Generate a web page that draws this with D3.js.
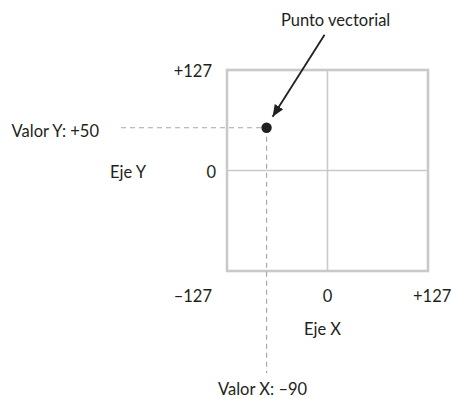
<!DOCTYPE html>
<html>
<head>
<meta charset="utf-8">
<script src="https://cdn.jsdelivr.net/npm/d3@7"></script>
<style>
  html, body { margin: 0; padding: 0; background: #fff; }
  svg { display: block; }
  text { font-family: Lato, "Open Sans", sans-serif; font-size: 16.5px; fill: #231f20; }
</style>
</head>
<body>
<svg id="chart" width="453" height="398"></svg>
<script>
// ---- data ----
const axisDomain = [-127, 127];
const xTickValues = [-127, 0, 127];
const xTickLabels = ["\u2013127", "0", "+127"];
const yTickValues = [127, 0];
const yTickLabels = ["+127", "0"];
const gridValues = [0];
// vector point position (as drawn in the picture) and its labelled values
const pointPos = { x: -77, y: 54 };
const pointLabels = { x: "Valor X: \u201390", y: "Valor Y: +50" };
const axisTitles = { x: "Eje X", y: "Eje Y" };
const calloutText = "Punto vectorial";

// ---- layout ----
const svg = d3.select("#chart");
const box = { left: 227, right: 428, top: 70, bottom: 271 };
const x = d3.scaleLinear().domain(axisDomain).range([box.left, box.right]);
const y = d3.scaleLinear().domain(axisDomain).range([box.bottom, box.top]);

const gridColor = "#c9c9c9";
const dashColor = "#a8a8a8";

// inner grid lines
svg.selectAll("line.vgrid").data(gridValues).enter().append("line")
  .attr("x1", d => x(d)).attr("x2", d => x(d))
  .attr("y1", y(axisDomain[1])).attr("y2", y(axisDomain[0]))
  .attr("stroke", gridColor).attr("stroke-width", 1.6);
svg.selectAll("line.hgrid").data(gridValues).enter().append("line")
  .attr("y1", d => y(d)).attr("y2", d => y(d))
  .attr("x1", x(axisDomain[0])).attr("x2", x(axisDomain[1]))
  .attr("stroke", gridColor).attr("stroke-width", 1.6);

// outer frame
svg.append("rect")
  .attr("x", x(axisDomain[0])).attr("y", y(axisDomain[1]))
  .attr("width", x(axisDomain[1]) - x(axisDomain[0]))
  .attr("height", y(axisDomain[0]) - y(axisDomain[1]))
  .attr("fill", "none").attr("stroke", gridColor).attr("stroke-width", 2.6);

const px = x(pointPos.x), py = y(pointPos.y);

// dashed guide lines
svg.append("line")
  .attr("x1", 121).attr("x2", px).attr("y1", py).attr("y2", py)
  .attr("stroke", dashColor).attr("stroke-width", 1.2).attr("stroke-dasharray", "5,4");
svg.append("line")
  .attr("x1", px).attr("x2", px).attr("y1", py).attr("y2", 373)
  .attr("stroke", dashColor).attr("stroke-width", 1.2).attr("stroke-dasharray", "5,4");

// point
svg.append("circle").attr("cx", px).attr("cy", py).attr("r", 5.2).attr("fill", "#231f20");

// arrow
svg.append("defs").append("marker")
  .attr("id", "ah").attr("viewBox", "0 0 12 10").attr("refX", 12).attr("refY", 5)
  .attr("markerWidth", 12).attr("markerHeight", 10).attr("markerUnits", "userSpaceOnUse")
  .attr("orient", "auto")
  .append("path").attr("d", "M0,0 L12,5 L0,10 Z").attr("fill", "#231f20");
svg.append("line")
  .attr("x1", px + 58).attr("y1", py - 93)
  .attr("x2", px + 6).attr("y2", py - 11)
  .attr("stroke", "#231f20").attr("stroke-width", 1.8)
  .attr("marker-end", "url(#ah)");

// callout text
svg.append("text").attr("x", px + 69).attr("y", 26).attr("text-anchor", "middle").text(calloutText);

// x tick labels
const xAnchors = ["end", "middle", "start"];
const xOffsets = [-15, 0, -15];
svg.selectAll("text.xt").data(xTickValues).enter().append("text")
  .attr("x", (d, i) => x(d) + xOffsets[i]).attr("y", 302)
  .attr("text-anchor", (d, i) => xAnchors[i])
  .text((d, i) => xTickLabels[i]);

// y tick labels
const yOffsets = [-15, -11];
svg.selectAll("text.yt").data(yTickValues).enter().append("text")
  .attr("x", (d, i) => x(axisDomain[0]) + yOffsets[i]).attr("y", d => y(d) + 7)
  .attr("text-anchor", "end")
  .text((d, i) => yTickLabels[i]);

// axis titles
svg.append("text").attr("x", x(0) - 5).attr("y", 335).attr("text-anchor", "middle").text(axisTitles.x);
svg.append("text").attr("x", 128).attr("y", y(0) + 7).attr("text-anchor", "middle").text(axisTitles.y);

// point value labels
svg.append("text").attr("x", 99).attr("y", py + 9).attr("text-anchor", "end").text(pointLabels.y);
svg.append("text").attr("x", px - 4).attr("y", 395).attr("text-anchor", "middle").text(pointLabels.x);
</script>
</body>
</html>
